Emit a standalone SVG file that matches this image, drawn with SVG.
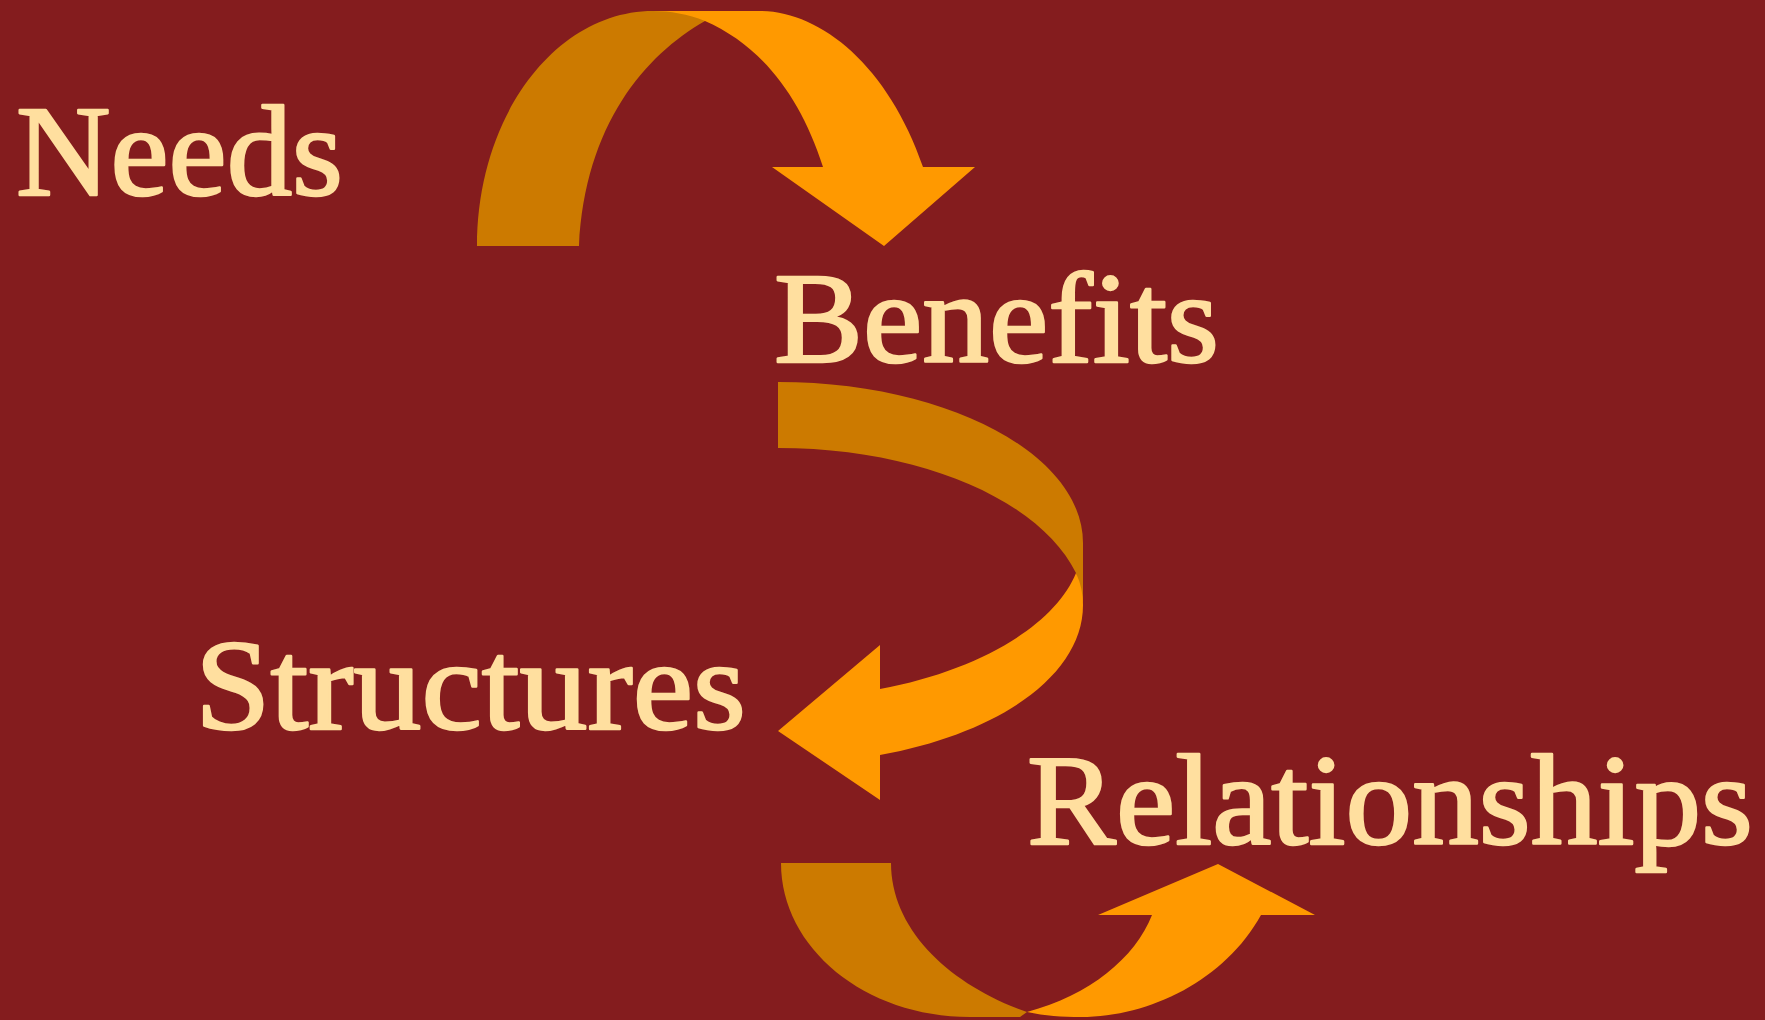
<svg xmlns="http://www.w3.org/2000/svg" width="1765" height="1020" viewBox="0 0 1765 1020">
<style>
.bg{fill:#841C1E}
.back{fill:#CC7A00}
.front{fill:#FF9900}
.lbl{font-family:"Liberation Serif","DejaVu Serif",serif;font-size:130px;fill:#FFDF9F;stroke:#FFDF9F;stroke-width:2.5;stroke-linejoin:round}
</style>
<rect class="bg" x="0" y="0" width="1765" height="1020"/>
<g id="connectors">
<g id="arrow-needs-benefits">
<path class="back" d="M477,246 C477,116 556,11 653,11 L707,11 L705,21 C645,55 585,125 579,246 Z"/>
<path class="front" d="M653,11 L760,11 C820,11 888,65 923,167 L975,167 L884,246 L772,167 L823,167 C800,95 760,45 705,21 C688,14 670,11 653,11 Z"/>
</g>
<g id="arrow-benefits-structures">
<path class="back" d="M778,382 C946,382 1083,454 1083,543 L1083,605 L1076,573 C1040,500 920,448 778,448 Z"/>
<path class="front" d="M1076,573 Q1083,588 1083,605 C1083,675 1000,733 880,755 L880,800 L778,731 L880,645 L880,689 C980,670 1055,625 1076,573 Z"/>
</g>
<g id="arrow-structures-relationships">
<path class="back" d="M781,863 L891,863 C891,930 950,985 1027,1012 L1020,1017 L970,1017 C865,1017 781,948 781,863 Z"/>
<path class="front" d="M1027,1012 C1045,1016 1062,1017 1081,1017 C1150,1017 1225,980 1261,915 L1315,915 L1218,864 L1098,915 L1152,915 C1135,958 1090,995 1027,1012 Z"/>
</g>
</g>
<g id="node-needs"><text class="lbl" x="16" y="195" textLength="327" lengthAdjust="spacingAndGlyphs">Needs</text></g>
<g id="node-benefits"><text class="lbl" x="774" y="362" textLength="445" lengthAdjust="spacingAndGlyphs">Benefits</text></g>
<g id="node-structures"><text class="lbl" x="195" y="729" textLength="551" lengthAdjust="spacingAndGlyphs">Structures</text></g>
<g id="node-relationships"><text class="lbl" x="1027" y="844" textLength="726" lengthAdjust="spacingAndGlyphs">Relationships</text></g>
</svg>
